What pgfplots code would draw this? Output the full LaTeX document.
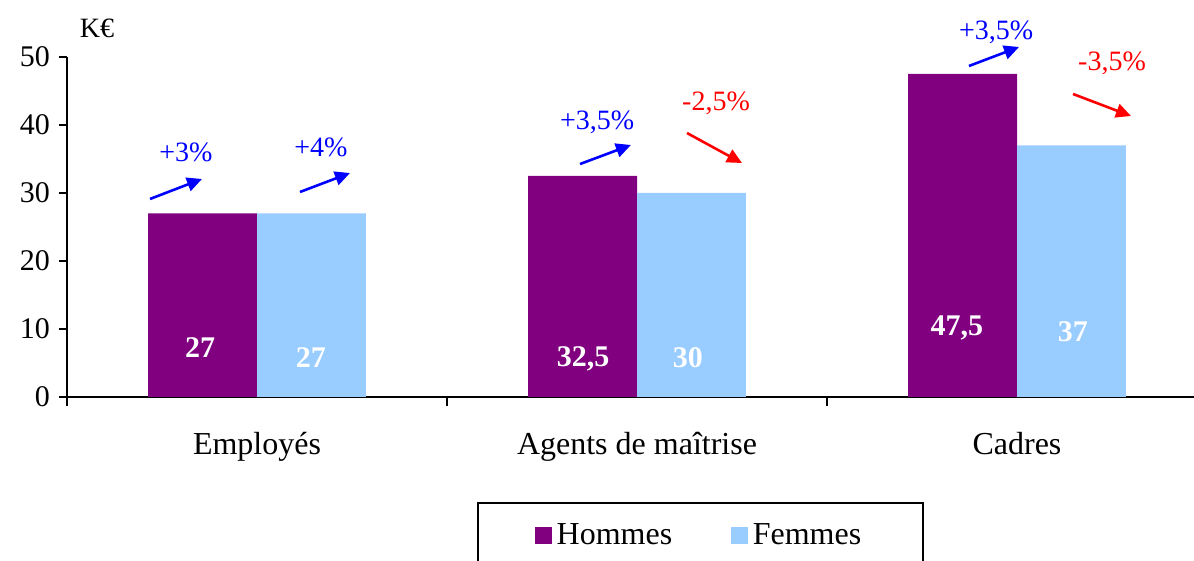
\documentclass[border=0pt]{standalone}
\usepackage{fontspec}
\setmainfont{Liberation Serif}
\usepackage{pgfplots}
\pgfplotsset{compat=1.18}
\usetikzlibrary{arrows.meta}
\definecolor{hom}{HTML}{800080}
\definecolor{fem}{HTML}{99CCFF}
\definecolor{ublue}{HTML}{0000FF}
\definecolor{ured}{HTML}{FF0000}
\begin{document}
\begin{tikzpicture}
\useasboundingbox (0,0) rectangle (597pt,280.5pt);
\begin{axis}[
  at={(33.5pt,82pt)}, anchor=south west,
  scale only axis, width=563.5pt, height=170pt,
  xmin=-0.5, xmax=2.4658, ymin=0, ymax=50,
  ybar=0pt, bar width=0.2868,
  ytick={0,10,20,30,40,50},
  xtick={0,1,2},
  xticklabels={Employés, Agents de maîtrise, Cadres},
  minor xtick={-0.5,0.5,1.5},
  axis lines*=left,
  axis line style={line width=1pt},
  tick align=outside,
  major tick length=4pt, minor tick length=4.5pt,
  major x tick style={draw=none},
  minor x tick style={black, line width=1pt},
  ytick style={black, line width=1pt},
  /pgf/number format/assume math mode=true,
  yticklabel style={font=\fontsize{15}{18}\selectfont, xshift=-1pt},
  xticklabel style={font=\fontsize{16}{19}\selectfont, yshift=-10pt},
  clip=false,
  legend image code/.code={\fill[#1] (0pt,-4.25pt) rectangle (8.5pt,4.25pt);},
  legend style={at={(0.5621,-0.3088)}, anchor=north, legend columns=2,
    draw=black, line width=1pt, minimum width=222.5pt, minimum height=32.5pt,
    font=\fontsize{16}{19}\selectfont,
    nodes={minimum width=0pt, minimum height=0pt, inner xsep=2.4pt, inner ysep=1pt},
    /tikz/every even column/.append style={column sep=27pt}},
]
\addplot[fill=hom, draw=none] coordinates {(0,27) (1,32.5) (2,47.5)};
\addplot[fill=fem, draw=none] coordinates {(0,27) (1,30) (2,37)};
\legend{Hommes,Femmes}

\begin{scope}[every node/.style={font=\fontsize{15}{18}\selectfont\bfseries, text=white}]
\node at (axis cs:-0.15,7.2) {27};
\node at (axis cs:0.142,5.74) {27};
\node at (axis cs:0.858,5.59) {32,5};
\node at (axis cs:1.134,5.74) {30};
\node at (axis cs:1.842,10.15) {47,5};
\node at (axis cs:2.147,9.56) {37};
\end{scope}

\node[font=\fontsize{14}{17}\selectfont] at (axis cs:-0.421,54.26) {K€};

\begin{scope}[every node/.style={font=\fontsize{14}{17}\selectfont}]
\node[text=ublue] at (axis cs:-0.187,36.03) {+3\%};
\node[text=ublue] at (axis cs:0.168,36.76) {+4\%};
\node[text=ublue] at (axis cs:0.895,40.44) {+3,5\%};
\node[text=ured] at (axis cs:1.208,43.24) {-2,5\%};
\node[text=ublue] at (axis cs:1.945,53.68) {+3,5\%};
\node[text=ured] at (axis cs:2.25,49.12) {-3,5\%};
\end{scope}

\begin{scope}[line width=1.3pt, -{Triangle[length=7.5pt,width=7pt]}]
\draw[ublue] (axis cs:-0.2816,29.12) -- (axis cs:-0.1447,32.06);
\draw[ublue] (axis cs:0.1132,30.15) -- (axis cs:0.2447,32.94);
\draw[ublue] (axis cs:0.85,34.26) -- (axis cs:0.984,37.06);
\draw[ured] (axis cs:1.1316,38.82) -- (axis cs:1.2763,34.41);
\draw[ublue] (axis cs:1.8737,48.68) -- (axis cs:2.0053,51.47);
\draw[ured] (axis cs:2.1474,44.56) -- (axis cs:2.3,41.32);
\end{scope}
\end{axis}
\end{tikzpicture}
\end{document}
